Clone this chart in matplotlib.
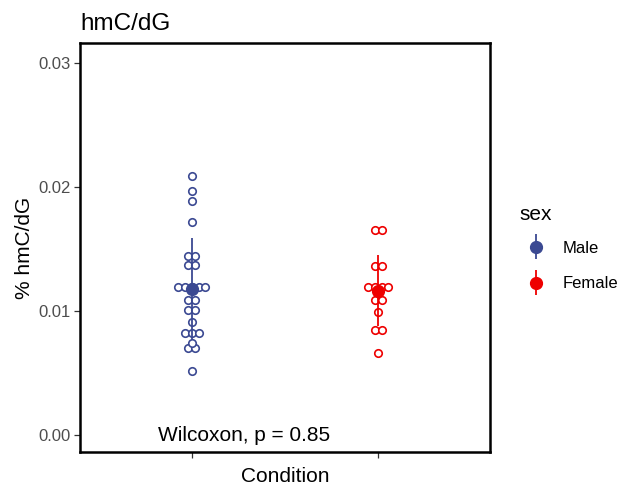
import numpy as np
import matplotlib
matplotlib.use("Agg")
import matplotlib.pyplot as plt
from matplotlib.legend_handler import HandlerErrorbar
from matplotlib.container import ErrorbarContainer

plt.rcParams['font.family'] = ['Liberation Sans', 'DejaVu Sans']

# ---- data ----
groups = ["Male", "Female"]
positions = [1, 2]
colors = ["#3B4992", "#EE0000"]
male_vals = [0.0209, 0.0197, 0.0189, 0.0172,
             0.0144, 0.0144, 0.0137, 0.0137,
             0.0119, 0.0119, 0.0119, 0.0119, 0.0119,
             0.0109, 0.0109, 0.0101, 0.0101, 0.0091,
             0.0082, 0.0082, 0.0082, 0.0074, 0.0070, 0.0070, 0.0052]
female_vals = [0.0165, 0.0165, 0.0136, 0.0136,
               0.0119, 0.0119, 0.0119, 0.0119,
               0.0109, 0.0109, 0.0099, 0.0085, 0.0085, 0.0066]
values = [male_vals, female_vals]
yticks = [0.00, 0.01, 0.02, 0.03]
ytick_labels = ["0.00", "0.01", "0.02", "0.03"]
title = "hmC/dG"
ylabel = "% hmC/dG"
xlabel = "Condition"
stat_label = "Wilcoxon, p = 0.85"
legend_title = "sex"

fig = plt.figure(figsize=(6.38, 4.86), dpi=100)
ax = fig.add_axes([80/638, 1-452/486, 410/638, 409/486])
ax.set_xlim(0.4, 2.6)
ax.set_ylim(-0.00137, 0.03161)

step = 6.7/410*2.2
handles = []
for pos, vals, col, name in zip(positions, values, colors, groups):
    vals = np.array(vals)
    uniq, counts = np.unique(vals, return_counts=True)
    xs, ys = [], []
    for u, c in zip(uniq, counts):
        offs = (np.arange(c) - (c-1)/2) * step
        xs.extend(pos + offs)
        ys.extend([u]*c)
    ax.scatter(xs, ys, s=29, facecolors='white', edgecolors=col, linewidths=1.2, zorder=2)
    m = vals.mean()
    sd = vals.std(ddof=1)
    h = ax.errorbar([pos], [m], yerr=[sd], fmt='o', color=col, ms=8.5,
                    elinewidth=1.3, capsize=0, zorder=3, label=name)
    handles.append(h)

for s in ax.spines.values():
    s.set_linewidth(1.8)
    s.set_color('black')
ax.set_xticks(positions)
ax.set_xticklabels(["", ""])
ax.set_yticks(yticks)
ax.set_yticklabels(ytick_labels)
ax.tick_params(axis='both', direction='out', length=4, width=0.9, color='#333333',
               labelcolor='#4D4D4D', labelsize=12, pad=3)
ax.set_xlabel(xlabel, fontsize=15, labelpad=4)
ax.set_ylabel(ylabel, fontsize=15, labelpad=3)
ax.set_title(title, loc='left', fontsize=17.5, pad=9)

ax.text(0.82, 0.0, stat_label, ha='left', va='center', fontsize=15)

leg = fig.legend(handles=handles, title=legend_title, loc='upper left',
                 bbox_to_anchor=(504/638, 1-190/486), frameon=False,
                 fontsize=12, title_fontsize=15, handlelength=2.0,
                 labelspacing=1.25, handletextpad=0.6,
                 handler_map={ErrorbarContainer: HandlerErrorbar(xerr_size=0.75)})
leg._legend_box.align = "left"
leg._legend_box.sep = 12

fig.savefig("out.png", dpi=100)
